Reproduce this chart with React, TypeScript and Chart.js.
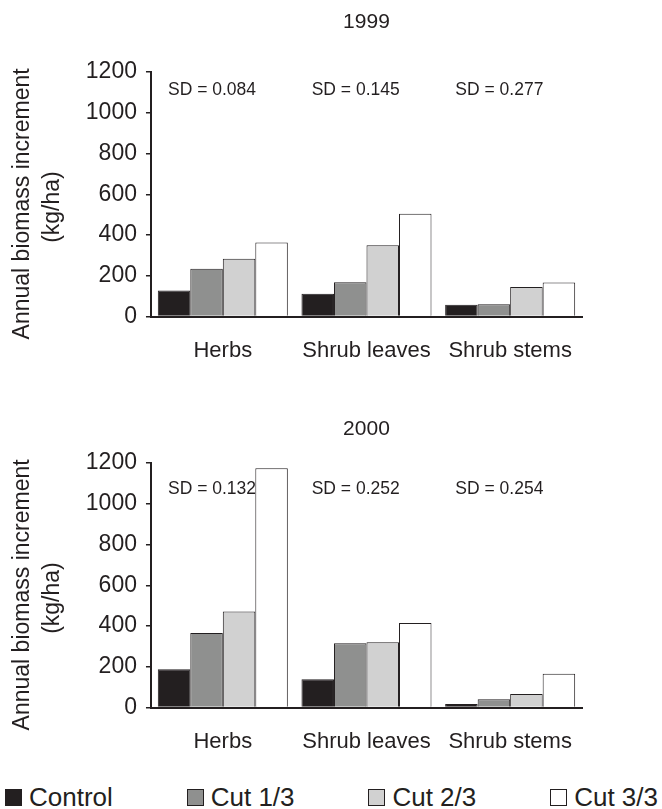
import React, { useEffect, useRef } from 'react';
import { Chart, registerables } from 'chart.js';

Chart.register(...registerables);

const categories = ['Herbs', 'Shrub leaves', 'Shrub stems'];
const seriesNames = ['Control', 'Cut 1/3', 'Cut 2/3', 'Cut 3/3'];

const control1999 = [128, 112, 58];
const cutOneThird1999 = [235, 169, 61];
const cutTwoThirds1999 = [284, 350, 145];
const cutAll1999 = [364, 504, 167];

const control2000 = [188, 139, 18];
const cutOneThird2000 = [366, 316, 41];
const cutTwoThirds2000 = [471, 320, 67];
const cutAll2000 = [1174, 415, 166];

const sdLabels1999 = ['SD = 0.084', 'SD = 0.145', 'SD = 0.277'];
const sdLabels2000 = ['SD = 0.132', 'SD = 0.252', 'SD = 0.254'];
const sdLevel1999 = 1110;
const sdLevel2000 = 1073;

const yMin = 0;
const yMax = 1200;
const yStep = 200;

const INK = '#231f20';
const FONT = '"Liberation Sans", Arial, Helvetica, sans-serif';
const fills = ['#231f20', '#8f908f', '#d1d1d1', '#ffffff'];

const sdPlugin = {
  id: 'sdLabels',
  afterDatasetsDraw(chart: any, _args: any, opts: any) {
    const { ctx, scales } = chart;
    const x = scales.x;
    const y = scales.y;
    const half = (x.getPixelForValue(1) - x.getPixelForValue(0)) / 2;
    ctx.save();
    ctx.font = `17.5px ${FONT}`;
    ctx.fillStyle = INK;
    ctx.textAlign = 'left';
    ctx.textBaseline = 'middle';
    (opts.labels || []).forEach((t: string, i: number) => {
      ctx.fillText(t, x.getPixelForValue(i) - half + 17, y.getPixelForValue(opts.level));
    });
    ctx.restore();
  },
};

function makeConfig(title: string, series: number[][], sd: string[], sdLevel: number, titleBottom: number) {
  return {
    type: 'bar' as const,
    data: {
      labels: categories,
      datasets: series.map((vals, i) => ({
        label: seriesNames[i],
        data: vals,
        backgroundColor: fills[i],
        borderColor: INK,
        borderWidth: 1,
        categoryPercentage: 0.905,
        barPercentage: 1.0,
      })),
    },
    options: {
      responsive: false,
      animation: false,
      layout: { padding: { top: 0, left: 0, right: 80, bottom: 0 } },
      plugins: {
        legend: { display: false },
        tooltip: { enabled: false },
        title: {
          display: true,
          fullSize: false,
          text: title,
          color: INK,
          font: { family: FONT, size: 21, weight: 'normal', lineHeight: 1.2 },
          padding: { top: 9.4, bottom: titleBottom },
        },
        sdLabels: { labels: sd, level: sdLevel },
      },
      scales: {
        x: {
          grid: { display: false, drawTicks: false },
          border: { display: true, color: INK, width: 2 },
          ticks: {
            color: INK,
            padding: 21,
            font: { family: FONT, size: 22, lineHeight: 1.2 },
            maxRotation: 0,
            autoSkip: false,
          },
        },
        y: {
          min: yMin,
          max: yMax,
          grid: { drawOnChartArea: false, drawTicks: true, tickLength: 5, color: INK, lineWidth: 1.5 },
          border: { display: true, color: INK, width: 2 },
          ticks: {
            stepSize: yStep,
            color: INK,
            padding: 9,
            font: { family: FONT, size: 23, lineHeight: 1.2 },
            callback: (v: any) => String(v),
          },
          title: {
            display: true,
            text: ['Annual biomass increment\u00a0\u00a0\u00a0', '(kg/ha)\u00a0\u00a0\u00a0\u00a0'],
            color: INK,
            font: { family: FONT, size: 23, weight: 'normal', lineHeight: 30 / 23 },
            padding: { top: 8, bottom: 8.8 },
          },
        },
      },
    },
    plugins: [sdPlugin],
  };
}

function BarPanel(props: { title: string; series: number[][]; sd: string[]; sdLevel: number; titleBottom: number; top: number; height: number }) {
  const ref = useRef<HTMLCanvasElement | null>(null);
  useEffect(() => {
    if (!ref.current) return;
    const chart = new Chart(ref.current, makeConfig(props.title, props.series, props.sd, props.sdLevel, props.titleBottom) as any);
    return () => chart.destroy();
  }, []);
  return (
    <canvas
      ref={ref}
      width={662}
      height={props.height}
      style={{ position: 'absolute', left: 0, top: props.top, width: 662, height: props.height }}
    />
  );
}

function Legend() {
  return (
    <div
      style={{
        position: 'absolute',
        left: 5,
        top: 780,
        width: 653,
        height: 34,
        display: 'flex',
        justifyContent: 'space-between',
        alignItems: 'center',
        fontFamily: FONT,
        fontSize: 26,
        color: INK,
      }}
    >
      {seriesNames.map((n, i) => (
        <div key={n} style={{ display: 'flex', alignItems: 'center', whiteSpace: 'nowrap' }}>
          <span
            style={{
              display: 'inline-block',
              width: 17,
              height: 17,
              boxSizing: 'border-box',
              background: fills[i],
              border: `1px solid ${INK}`,
              marginRight: 7,
            }}
          />
          <span style={{ lineHeight: '34px' }}>{n}</span>
        </div>
      ))}
    </div>
  );
}

export default function App() {
  return (
    <div style={{ position: 'absolute', left: 0, top: 0, width: 662, height: 809, background: '#ffffff', overflow: 'hidden' }}>
      <BarPanel
        title="1999"
        series={[control1999, cutOneThird1999, cutTwoThirds1999, cutAll1999]}
        sd={sdLabels1999}
        sdLevel={sdLevel1999}
        titleBottom={37.4}
        top={0}
        height={385}
      />
      <BarPanel
        title="2000"
        series={[control2000, cutOneThird2000, cutTwoThirds2000, cutAll2000]}
        sd={sdLabels2000}
        sdLevel={sdLevel2000}
        titleBottom={21.4}
        top={407}
        height={369}
      />
      <Legend />
    </div>
  );
}
